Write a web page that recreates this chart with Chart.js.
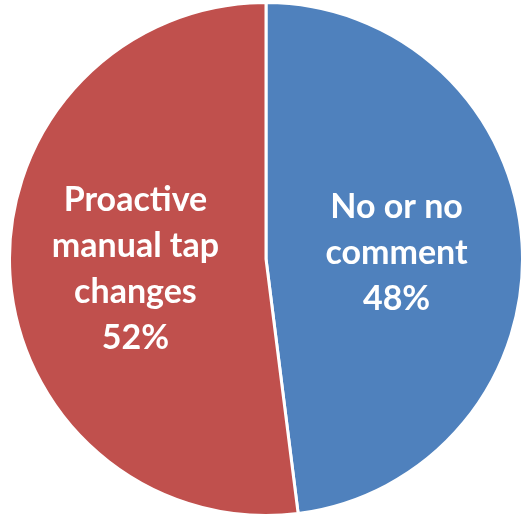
<!DOCTYPE html>
<html>
<head>
<meta charset="utf-8">
<script src="https://cdn.jsdelivr.net/npm/chart.js@4"></script>
<style>
  html, body { margin: 0; padding: 0; background: #fff; }
  #wrap { width: 525px; height: 520px; position: relative; }
</style>
</head>
<body>
<div id="wrap"><canvas id="pieChart"></canvas></div>
<script>
var categories = [['No or no', 'comment'], ['Proactive', 'manual tap', 'changes']];
var shares = [48, 52];
var sliceColors = ['#4F81BD', '#C0504D'];

// draws the category name and percentage inside each slice
var sliceLabels = {
    id: 'sliceLabels',
    afterDatasetsDraw: function(chart) {
        var ctx = chart.ctx;
        var meta = chart.getDatasetMeta(0);
        ctx.save();
        ctx.fillStyle = '#ffffff';
        ctx.font = 'bold 34px Lato, "Open Sans", sans-serif';
        ctx.textAlign = 'center';
        ctx.textBaseline = 'middle';
        meta.data.forEach(function(arc, i) {
            var mid = (arc.startAngle + arc.endAngle) / 2;
            var r = arc.outerRadius * 0.51;
            var x = arc.x + Math.cos(mid) * r;
            var y = arc.y + Math.sin(mid) * r + 2;
            var lines = categories[i].concat([shares[i] + '%']);
            var lineH = 46;
            var top = y - (lines.length - 1) * lineH / 2;
            lines.forEach(function(t, j) {
                ctx.fillText(t, x, top + j * lineH);
            });
        });
        ctx.restore();
    }
};

document.addEventListener("DOMContentLoaded", function() {
    var ctx = document.getElementById('pieChart').getContext('2d');
    new Chart(ctx, {
        type: 'pie',
        data: {
            labels: categories.map(function(c) { return c.join(' '); }),
            datasets: [{
                data: shares,
                backgroundColor: sliceColors,
                borderColor: '#ffffff',
                borderWidth: 3
            }]
        },
        options: {
            responsive: true,
            maintainAspectRatio: false,
            animation: false,
            layout: { padding: { left: 7, right: 0, top: 1, bottom: 3 } },
            plugins: {
                legend: { display: false },
                tooltip: { enabled: false }
            }
        },
        plugins: [sliceLabels]
    });
});
</script>
</body>
</html>
